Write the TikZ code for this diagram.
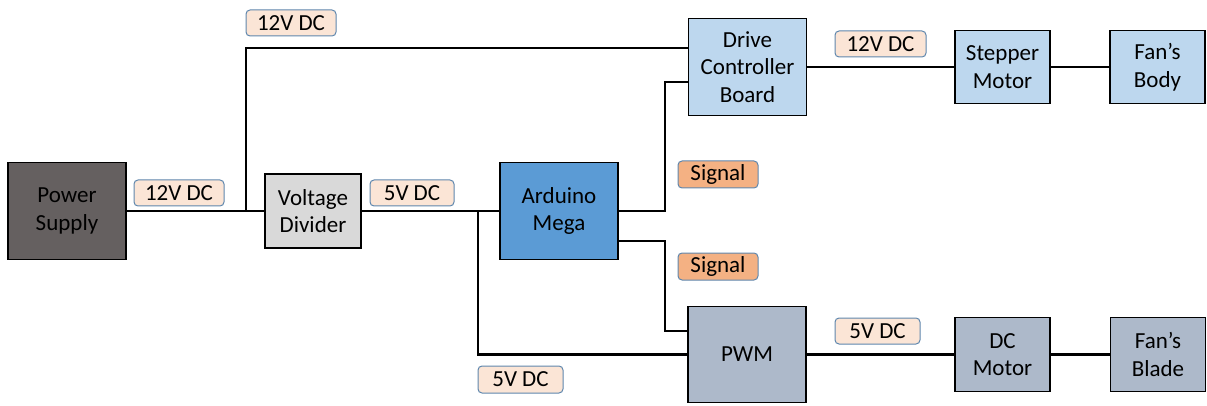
\documentclass[tikz,border=0pt]{standalone}
\usepackage{fontspec}
\setmainfont{Carlito}
\usepackage{xcolor}
\usepackage{tikz}
\usetikzlibrary{positioning,backgrounds}
\definecolor{psgray}{HTML}{656060}
\definecolor{divgray}{HTML}{D9D9D9}
\definecolor{megablue}{HTML}{5B9BD5}
\definecolor{paleblue}{HTML}{BDD7EE}
\definecolor{slate}{HTML}{ADB9CA}
\definecolor{peach}{HTML}{FBE5D6}
\definecolor{apricot}{HTML}{F4B183}
\definecolor{tagline}{HTML}{5F87AE}
\tikzset{
  block/.style={draw=black,line width=1.5pt,fill=#1,align=center,inner sep=0pt,font=\fontsize{23}{27.5}\selectfont},
  bigblock/.style={block=#1,minimum width=118pt,minimum height=97pt},
  smallblock/.style={block=#1,minimum width=95pt,minimum height=74pt},
  tag/.style={draw=tagline,line width=1pt,fill=#1,rounded corners=4pt,inner sep=0pt,minimum height=26pt,font=\fontsize{23}{25}\selectfont},
  wire/.style={line width=2.5pt,color=black},
}

\begin{document}
\begin{tikzpicture}[x=1pt,y=-1pt]
    \useasboundingbox (0,0) rectangle (1207,406);
    \node[bigblock=psgray] (ps) at (67,211) {Power\\Supply};
    \node[block=divgray,minimum width=96pt,minimum height=74pt] (vd) at (313,211) {Voltage\\Divider};
    \node[bigblock=megablue] (ard) at (559,211) {Arduino\\Mega};
    \node[bigblock=paleblue] (dcb) at (747.5,67) {Drive\\Controller\\Board};
    \node[smallblock=paleblue,minimum height=73pt] (stp) at (1002.5,67) {Stepper\\Motor};
    \node[smallblock=paleblue,minimum height=73pt] (fbody) at (1157.5,67) {Fan’s\\Body};
    \node[bigblock=slate,minimum height=96pt] (pwm) at (747,354.5) {PWM};
    \node[smallblock=slate] (dcm) at (1002.5,354.5) {DC\\Motor};
    \node[smallblock=slate] (fblade) at (1158,354.5) {Fan’s\\Blade};
    % tags on the wires
    \node[tag=peach,minimum width=90pt] (v12top) at (291,23) {12V DC};
    \node[tag=peach,minimum width=90pt] (v12in) at (179,193) {12V DC};
    \node[tag=peach,minimum width=84pt] (v5div) at (412,193) {5V DC};
    \node[tag=peach,minimum width=91pt] (v12stp) at (880.5,44) {12V DC};
    \node[tag=apricot,minimum width=80pt,minimum height=27pt] (sigup) at (718,174.5) {Signal};
    \node[tag=apricot,minimum width=80pt,minimum height=27pt] (sigdown) at (718,266.5) {Signal};
    \node[tag=peach,minimum width=85pt] (v5dcm) at (877.5,331) {5V DC};
    \node[tag=peach,minimum width=85pt,minimum height=27pt] (v5pwm) at (520.5,379.5) {5V DC};
    \coordinate (j12) at (246,211); \coordinate (up12) at (246,48);
    \coordinate (j5) at (478,211);
    \coordinate (s1) at (665,82); \coordinate (s2) at (665,241); \coordinate (s3) at (665,331);
    \begin{scope}[on background layer]
      \foreach \a/\b in {ps/vd,vd/ard,dcb/stp,stp/fbody,pwm/dcm,dcm/fblade} \draw[wire] (\a) -- (\b);
      \draw[wire] (j12) -- (up12) -- (up12 -| dcb.west);
      \draw[wire] (j5) |- (pwm.west);
      \draw[wire] (ard.east) -| (s1) -- (s1 -| dcb.west);
      \draw[wire] (s2 -| ard.east) -- (s2) -- (s3) -- (s3 -| pwm.west);
    \end{scope}
  \end{tikzpicture}
\end{document}
